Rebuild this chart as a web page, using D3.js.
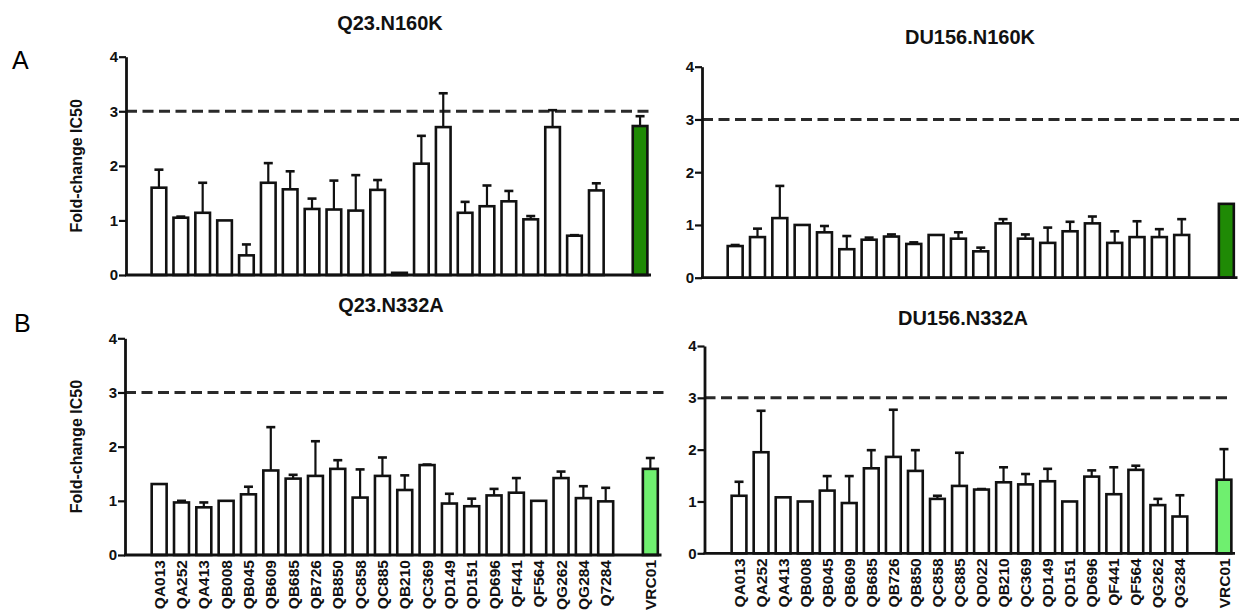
<!DOCTYPE html>
<html>
<head>
<meta charset="utf-8">
<script src="https://cdn.jsdelivr.net/npm/d3@7"></script>
<style>
  body { margin: 0; background: #fff; }
  svg { display: block; font-family: "Liberation Sans", Arial, sans-serif; }
</style>
</head>
<body>
<div id="chart"></div>
<script>
// virus panels (last entry is the VRC01 control)
let q23Labels = ["QA013", "QA252", "QA413", "QB008", "QB045", "QB609", "QB685", "QB726", "QB850", "QC858", "QC885",
                 "QB210", "QC369", "QD149", "QD151", "QD696", "QF441", "QF564", "QG262", "QG284", "Q7284", "VRC01"];
let du156Labels = ["QA013", "QA252", "QA413", "QB008", "QB045", "QB609", "QB685", "QB726", "QB850", "QC858", "QC885",
                   "QD022", "QB210", "QC369", "QD149", "QD151", "QD696", "QF441", "QF564", "QG262", "QG284", "VRC01"];

// mean fold-change IC50 and top of the error bar (mean + sd)
let q23N160K    = [1.60, 1.05, 1.14, 1.00, 0.36, 1.69, 1.57, 1.21, 1.20, 1.18, 1.56, 0.04, 2.04, 2.71, 1.14, 1.26, 1.35, 1.02, 2.71, 0.72, 1.55, 2.73];
let q23N160KErr = [1.93, 1.07, 1.69, 1.00, 0.56, 2.05, 1.90, 1.40, 1.73, 1.83, 1.74, 0.04, 2.55, 3.33, 1.34, 1.64, 1.54, 1.08, 3.02, 0.73, 1.68, 2.91];

let du156N160K    = [0.60, 0.77, 1.13, 1.00, 0.86, 0.54, 0.72, 0.78, 0.64, 0.81, 0.74, 0.50, 1.03, 0.74, 0.66, 0.88, 1.03, 0.66, 0.77, 0.77, 0.81, 1.40];
let du156N160KErr = [0.62, 0.93, 1.74, 1.00, 0.98, 0.79, 0.76, 0.82, 0.67, 0.81, 0.86, 0.57, 1.11, 0.82, 0.95, 1.06, 1.16, 0.88, 1.07, 0.92, 1.11, 1.40];

let q23N332A    = [1.31, 0.97, 0.88, 1.00, 1.12, 1.56, 1.41, 1.46, 1.59, 1.06, 1.46, 1.20, 1.66, 0.95, 0.90, 1.10, 1.15, 1.00, 1.42, 1.05, 0.99, 1.59];
let q23N332AErr = [1.31, 1.00, 0.97, 1.00, 1.26, 2.36, 1.48, 2.10, 1.75, 1.58, 1.80, 1.47, 1.67, 1.13, 1.04, 1.22, 1.42, 1.00, 1.54, 1.27, 1.24, 1.79];

let du156N332A    = [1.11, 1.95, 1.08, 1.00, 1.21, 0.97, 1.64, 1.86, 1.59, 1.05, 1.30, 1.23, 1.37, 1.33, 1.39, 1.00, 1.48, 1.14, 1.61, 0.93, 0.71, 1.42];
let du156N332AErr = [1.38, 2.75, 1.08, 1.00, 1.49, 1.49, 1.99, 2.77, 1.99, 1.11, 1.94, 1.24, 1.66, 1.53, 1.63, 1.00, 1.60, 1.66, 1.69, 1.05, 1.12, 2.01];

let yTicks = [0, 1, 2, 3, 4];
let cutoff = 3;
let gapSlot = "_gap";

let svg = d3.select("#chart").append("svg")
            .attr("width", 1239)
            .attr("height", 610);

function barChart(cfg) {
    let g = svg.append("g");

    // 21 viruses, one empty slot, then the control
    let slots = cfg.labels.slice(0, -1).concat([gapSlot, cfg.labels[cfg.labels.length - 1]]);

    let xScale = d3.scaleBand()
                   .domain(slots)
                   .range([cfg.x0, cfg.x1])
                   .paddingInner(0.33)
                   .paddingOuter(0.165);

    let yScale = d3.scaleLinear()
                   .domain([0, 4])
                   .range([cfg.yBottom, cfg.yTop]);

    let rows = cfg.labels.map(function(d, i) {
        return {label: d, value: cfg.values[i], err: cfg.errs[i], control: i === cfg.labels.length - 1};
    });

    /* dashed 3-fold cutoff */
    g.append("line")
     .attr("x1", cfg.axisX)
     .attr("x2", cfg.x1 + cfg.dashExtra)
     .attr("y1", yScale(cutoff))
     .attr("y2", yScale(cutoff))
     .attr("stroke", "#2a2a2a")
     .attr("stroke-width", 3)
     .attr("stroke-dasharray", "11,5.5");

    /* error bars (upper only) */
    let eb = g.selectAll(".err")
              .data(rows.filter(function(d) { return d.err > d.value + 0.005 }))
              .enter()
              .append("g")
              .attr("class", "err");

    eb.append("line")
      .attr("x1", function(d) { return xScale(d.label) + xScale.bandwidth() / 2 })
      .attr("x2", function(d) { return xScale(d.label) + xScale.bandwidth() / 2 })
      .attr("y1", function(d) { return yScale(d.value) })
      .attr("y2", function(d) { return yScale(d.err) })
      .attr("stroke", "#111")
      .attr("stroke-width", 2.2);

    eb.append("line")
      .attr("x1", function(d) { return xScale(d.label) + xScale.bandwidth() / 2 - 4.5 })
      .attr("x2", function(d) { return xScale(d.label) + xScale.bandwidth() / 2 + 4.5 })
      .attr("y1", function(d) { return yScale(d.err) })
      .attr("y2", function(d) { return yScale(d.err) })
      .attr("stroke", "#111")
      .attr("stroke-width", 2.6);

    /* bars */
    g.selectAll(".bar")
     .data(rows)
     .enter()
     .append("rect")
     .attr("class", "bar")
     .attr("x", function(d) { return xScale(d.label) })
     .attr("width", xScale.bandwidth())
     .attr("y", function(d) { return yScale(d.value) })
     .attr("height", function(d) { return yScale(0) - yScale(d.value) })
     .attr("fill", function(d) { return d.control ? cfg.green : "#fff" })
     .attr("stroke", "#111")
     .attr("stroke-width", 2.6);

    /* y axis */
    let yAxis = d3.axisLeft(yScale)
                  .tickValues(yTicks)
                  .tickFormat(d3.format("d"))
                  .tickSize(7)
                  .tickSizeOuter(0)
                  .tickPadding(1);

    let ya = g.append("g")
              .attr("transform", "translate(" + cfg.axisX + ",0)")
              .call(yAxis);
    ya.select(".domain").attr("stroke", "#111").attr("stroke-width", 2.8);
    ya.selectAll(".tick line").attr("stroke", "#111").attr("stroke-width", 2.2);
    ya.selectAll(".tick text")
      .attr("fill", "#111")
      .attr("font-size", 15)
      .attr("font-weight", "bold")
      .attr("font-family", "Liberation Sans, Arial, sans-serif");

    /* x axis baseline */
    g.append("line")
     .attr("x1", cfg.axisX - 1)
     .attr("x2", cfg.x1)
     .attr("y1", yScale(0))
     .attr("y2", yScale(0))
     .attr("stroke", "#111")
     .attr("stroke-width", 2.8);

    if (cfg.showLabels) {
        let xAxis = d3.axisBottom(xScale)
                      .tickSize(0)
                      .tickFormat(function(d) { return d === gapSlot ? "" : d });

        let xa = g.append("g")
                  .attr("transform", "translate(0," + yScale(0) + ")")
                  .call(xAxis);
        xa.select(".domain").remove();
        xa.selectAll(".tick text")
          .attr("transform", "rotate(-90)")
          .attr("x", -5)
          .attr("y", 0)
          .attr("dy", "0.36em")
          .attr("text-anchor", "end")
          .attr("fill", "#111")
          .attr("font-size", 15.5)
          .attr("font-weight", "bold")
          .attr("font-family", "Liberation Sans, Arial, sans-serif");
    }

    /* title */
    svg.append("text")
       .attr("x", cfg.titleX)
       .attr("y", cfg.titleY)
       .attr("text-anchor", "middle")
       .attr("font-size", 20)
       .attr("font-weight", "bold")
       .attr("fill", "#111")
       .text(cfg.title);

    if (cfg.yLabel) {
        svg.append("text")
           .attr("transform", "translate(" + 82 + "," + ((cfg.yTop + cfg.yBottom) / 2) + ") rotate(-90)")
           .attr("text-anchor", "middle")
           .attr("font-size", 16)
           .attr("font-weight", "bold")
           .attr("fill", "#111")
           .text(cfg.yLabel);
    }
}

barChart({title: "Q23.N160K", labels: q23Labels, values: q23N160K, errs: q23N160KErr,
          axisX: 126, x0: 148, x1: 651, yBottom: 275, yTop: 56.7, dashExtra: 2,
          green: "#1f8a05", titleX: 390, titleY: 30, yLabel: "Fold-change IC50", showLabels: false});

barChart({title: "DU156.N160K", labels: du156Labels, values: du156N160K, errs: du156N160KErr,
          axisX: 702, x0: 724, x1: 1237.5, yBottom: 277.7, yTop: 66.7, dashExtra: 2,
          green: "#1f8a05", titleX: 970, titleY: 44, yLabel: null, showLabels: false});

barChart({title: "Q23.N332A", labels: q23Labels, values: q23N332A, errs: q23N332AErr,
          axisX: 125, x0: 148, x1: 661.5, yBottom: 555, yTop: 338.3, dashExtra: 2,
          green: "#6fef6f", titleX: 391, titleY: 312, yLabel: "Fold-change IC50", showLabels: true});

barChart({title: "DU156.N332A", labels: du156Labels, values: du156N332A, errs: du156N332AErr,
          axisX: 704.5, x0: 728, x1: 1235, yBottom: 553.3, yTop: 346, dashExtra: -4,
          green: "#6fef6f", titleX: 963, titleY: 325, yLabel: null, showLabels: true});

/* panel letters */
svg.append("text").attr("x", 12).attr("y", 69).attr("font-size", 25).attr("fill", "#000").text("A");
svg.append("text").attr("x", 14).attr("y", 332).attr("font-size", 25).attr("fill", "#000").text("B");
</script>
</body>
</html>
